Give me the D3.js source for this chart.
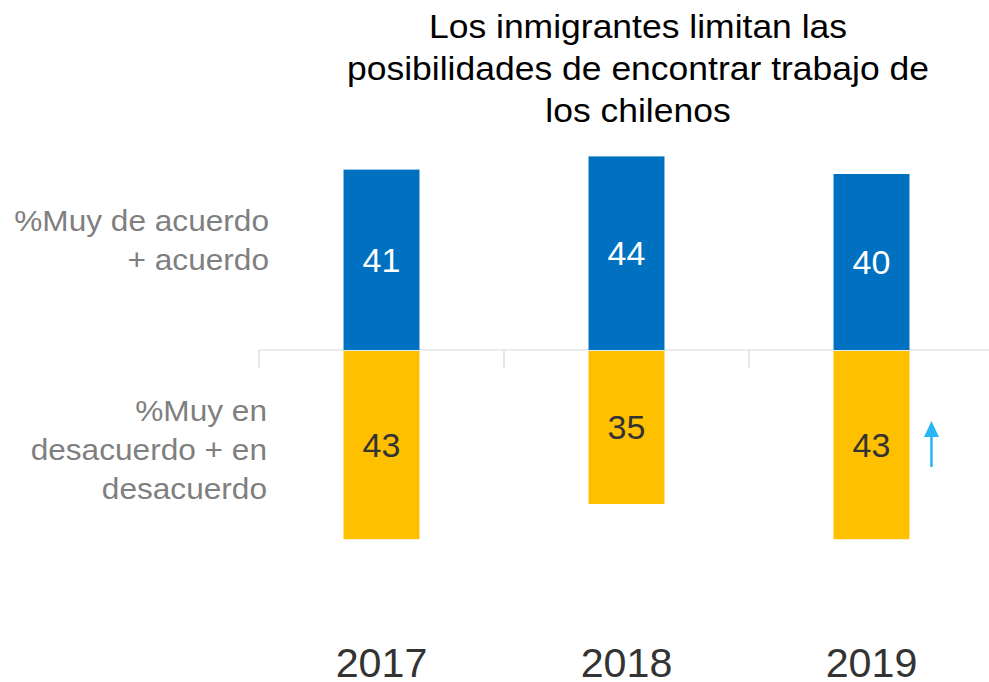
<!DOCTYPE html>
<html>
<head>
<meta charset="utf-8">
<script src="https://cdn.jsdelivr.net/npm/d3@7"></script>
<style>
  body { margin: 0; background: #fff; }
  svg { display: block; font-family: 'Liberation Sans', Arial, sans-serif; }
</style>
</head>
<body>
<svg id="chart" width="989" height="682"></svg>
<script>
const years = ['2017', '2018', '2019']
const acuerdo = [41, 44, 40]
const desacuerdo = [43, 35, 43]
const titleLines = ['Los inmigrantes limitan las', 'posibilidades de encontrar trabajo de', 'los chilenos']
const acuerdoLabel = ['%Muy de acuerdo', '+ acuerdo']
const desacuerdoLabel = ['%Muy en', 'desacuerdo + en', 'desacuerdo']
// arrow marks a significant rise in 2019 disagreement
const arrowYear = '2019'

const svg = d3.select('#chart')
const baseY = 350
const pxPerUnit = 4.4

const x = d3.scaleBand()
    .domain(years)
    .range([259, 259 + 245 * years.length])
    .paddingInner(0.69)
    .paddingOuter(0.345)

const yUp = d3.scaleLinear().domain([0, 50]).range([baseY, baseY - 50 * pxPerUnit])
const yDown = d3.scaleLinear().domain([0, 50]).range([baseY, baseY + 50 * pxPerUnit])

// the source slide text is a little wider than plain Arial, so stretch it
const stretched = (sel, px, py, sx) => sel
    .attr('transform', (d, i) => `translate(${px(d, i)},${py(d, i)}) scale(${sx},1)`)

// title
svg.append('g')
    .selectAll('text')
    .data(titleLines)
    .join('text')
    .call(stretched, () => 638, (d, i) => 38 + i * 42, 1.06)
    .attr('text-anchor', 'middle')
    .attr('font-size', 33.5)
    .attr('fill', '#000')
    .text(d => d)

// baseline axis with ticks between bands
const axis = svg.append('g')
axis.append('line')
    .attr('x1', 259).attr('x2', 989)
    .attr('y1', baseY).attr('y2', baseY)
    .attr('stroke', '#d9d9d9').attr('stroke-width', 1.2)
axis.selectAll('line.tick')
    .data(years)
    .join('line')
    .classed('tick', true)
    .attr('x1', d => x(d) - x.step() * 0.345)
    .attr('x2', d => x(d) - x.step() * 0.345)
    .attr('y1', baseY).attr('y2', baseY + 18)
    .attr('stroke', '#d9d9d9').attr('stroke-width', 1.2)

// bars
const bars = svg.append('g')
bars.selectAll('rect.up')
    .data(years)
    .join('rect')
    .classed('up', true)
    .attr('x', d => x(d))
    .attr('width', x.bandwidth())
    .attr('y', (d, i) => yUp(acuerdo[i]))
    .attr('height', (d, i) => baseY - yUp(acuerdo[i]))
    .attr('fill', '#0070C0')

bars.selectAll('rect.down')
    .data(years)
    .join('rect')
    .classed('down', true)
    .attr('x', d => x(d))
    .attr('width', x.bandwidth())
    .attr('y', baseY + 1)
    .attr('height', (d, i) => yDown(desacuerdo[i]) - baseY - 1)
    .attr('fill', '#FFC000')

// value labels
const valueSize = 34
bars.selectAll('text.up')
    .data(years)
    .join('text')
    .attr('x', d => x(d) + x.bandwidth() / 2)
    .attr('y', (d, i) => (yUp(acuerdo[i]) + baseY) / 2 + valueSize * 0.36)
    .attr('text-anchor', 'middle')
    .attr('font-size', valueSize)
    .attr('fill', '#fff')
    .text((d, i) => acuerdo[i])

bars.selectAll('text.down')
    .data(years)
    .join('text')
    .attr('x', d => x(d) + x.bandwidth() / 2)
    .attr('y', (d, i) => (yDown(desacuerdo[i]) + baseY) / 2 + valueSize * 0.36)
    .attr('text-anchor', 'middle')
    .attr('font-size', valueSize)
    .attr('fill', '#333')
    .text((d, i) => desacuerdo[i])

// year labels
svg.append('g')
    .selectAll('text')
    .data(years)
    .join('text')
    .call(stretched, d => x(d) + x.bandwidth() / 2, () => 677, 1.03)
    .attr('text-anchor', 'middle')
    .attr('font-size', 40)
    .attr('fill', '#333')
    .text(d => d)

// row labels
svg.append('g')
    .selectAll('text')
    .data(acuerdoLabel)
    .join('text')
    .call(stretched, () => 269, (d, i) => 231 + i * 39, 1.09)
    .attr('text-anchor', 'end')
    .attr('font-size', 29)
    .attr('fill', '#7f7f7f')
    .text(d => d)

svg.append('g')
    .selectAll('text')
    .data(desacuerdoLabel)
    .join('text')
    .call(stretched, () => 267, (d, i) => 421 + i * 39, 1.09)
    .attr('text-anchor', 'end')
    .attr('font-size', 29)
    .attr('fill', '#7f7f7f')
    .text(d => d)

// significance arrow
const ax = x(arrowYear) + x.bandwidth() + 22
const arrow = svg.append('g').attr('fill', '#29B6F6').attr('stroke', '#29B6F6')
arrow.append('line')
    .attr('x1', ax).attr('x2', ax)
    .attr('y1', 434).attr('y2', 467)
    .attr('stroke-width', 2.5)
arrow.append('path')
    .attr('d', `M${ax},421 L${ax - 7.5},437 L${ax + 7.5},437 Z`)
    .attr('stroke', 'none')
</script>
</body>
</html>
